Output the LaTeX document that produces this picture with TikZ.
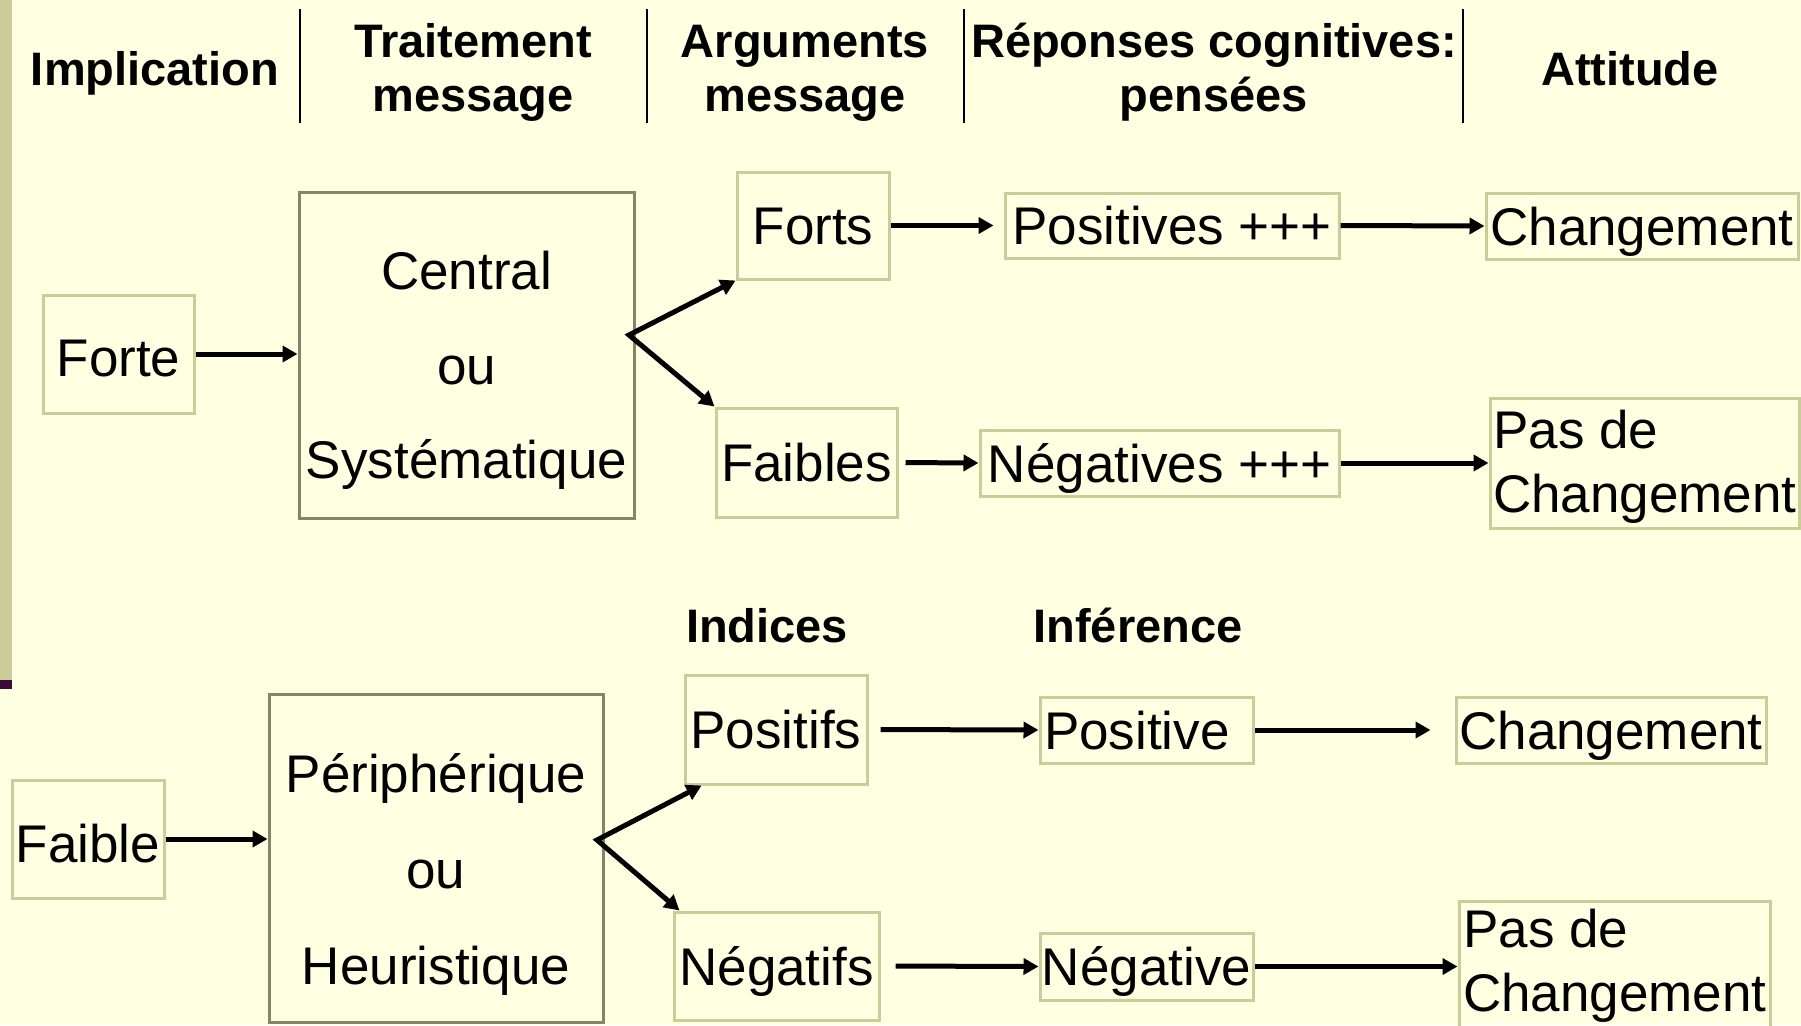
\documentclass[tikz,border=0pt]{standalone}
\usepackage{fontspec}
\setmainfont{Liberation Sans}
\usetikzlibrary{arrows.meta}
\definecolor{bgc}{HTML}{FFFFE1}
\definecolor{leftbar}{HTML}{CCCC99}
\definecolor{purp}{HTML}{3D0A3D}
\definecolor{sboxc}{HTML}{CCCC99}
\definecolor{bboxc}{HTML}{85856A}
\begin{document}
\begin{tikzpicture}[x=1pt,y=-1pt,
  bodyfont/.style={font=\fontsize{53}{63}\selectfont},
  sbox/.style={draw=sboxc, line width=3pt, inner sep=0pt, text height=38pt, text depth=0pt, bodyfont},
  bbox/.style={draw=bboxc, line width=3pt, inner sep=0pt},
  txt/.style={inner sep=0pt, anchor=base, bodyfont},
  txtl/.style={inner sep=0pt, anchor=base west, bodyfont},
  hdr/.style={inner sep=0pt, anchor=base, font=\bfseries\fontsize{47}{54}\selectfont},
  arr/.style={line width=5pt, -{Triangle[length=15pt,width=16pt]}},
  arrbi/.style={line width=5pt, line join=miter, {Triangle[length=15pt,width=16pt]}-{Triangle[length=15pt,width=16pt]}},
  sepline/.style={line width=2pt}]
\fill[bgc] (0,0) rectangle (1801,1025);
\useasboundingbox (0,0) rectangle (1801,1025);
\fill[leftbar] (0,0) rectangle (12,680);
\fill[purp] (0,680) rectangle (12,689);

% header separators
\draw[sepline] (300,9) -- (300,123);
\draw[sepline] (647,9) -- (647,123);
\draw[sepline] (964,9) -- (964,123);
\draw[sepline] (1463,9) -- (1463,123);

% headers
\node[hdr] (h1) at (155,85.5) {Implication};
\node[hdr] (h2a) at (473,58) {Traitement};
\node[hdr] (h2b) at (473,111) {message};
\node[hdr] (h3a) at (805,58) {Arguments};
\node[hdr] (h3b) at (805,111) {message};
\node[hdr] (h4a) at (1214,58) {Réponses cognitives:};
\node[hdr] (h4b) at (1214,111) {pensées};
\node[hdr] (h5) at (1630,85.5) {Attitude};
\node[hdr] (h6) at (767,642) {Indices};
\node[hdr] (h7) at (1138,642) {Inférence};

% top section boxes
\node[sbox, text height=44pt, minimum width=151pt, minimum height=118pt] (forte) at (118.5,354) {Forte};
\node[bbox, minimum width=335pt, minimum height=326pt] (central) at (466.5,355) {};
\node[txt] (c1) at (466.5,289) {Central};
\node[txt] (c2) at (466.5,384) {ou};
\node[txt] (c3) at (466.5,478) {Systématique};
\node[sbox, minimum width=152pt, minimum height=107pt] (forts) at (813,225.5) {Forts};
\node[sbox, minimum width=181pt, minimum height=109pt] (faibles) at (806.5,462.5) {Faibles};
\node[sbox, minimum width=334pt, minimum height=65pt] (positives) at (1172,225.5) {Positives +++};
\node[sbox, minimum width=359pt, minimum height=66pt] (negatives) at (1159.5,463) {Négatives +++};
\node[sbox, minimum width=312pt, minimum height=66pt] (chg1) at (1642,226) {Changement};
\node[sbox, minimum width=309pt, minimum height=130pt] (pasde1) at (1644.5,463) {};
\node[txtl] (p1a) at (1493,448) {Pas de};
\node[txtl] (p1b) at (1493,512) {Changement};

% bottom section boxes
\node[sbox, text height=46pt, minimum width=152pt, minimum height=118pt] (faible) at (88,839) {Faible};
\node[bbox, minimum width=334pt, minimum height=328pt] (periph) at (436,858) {};
\node[txt] (d1) at (436,792) {Périphérique};
\node[txt] (d2) at (436,888) {ou};
\node[txt] (d3) at (436,984) {Heuristique};
\node[sbox, minimum width=182pt, minimum height=109pt] (positifs) at (776,729.5) {Positifs};
\node[sbox, minimum width=205pt, minimum height=108pt] (negatifs) at (776.5,966) {Négatifs};
\node[sbox, minimum width=213pt, minimum height=66pt, text width=205pt, align=left] (positive) at (1146.5,730) {Positive};
\node[sbox, minimum width=310pt, minimum height=66pt] (chg2) at (1611,730) {Changement};
\node[sbox, minimum width=213pt, minimum height=67pt] (negative) at (1146.5,966.5) {Négative};
\node[sbox, minimum width=311pt, minimum height=144pt] (pasde2) at (1614.5,973) {};
\node[txtl] (p2a) at (1463,947) {Pas de};
\node[txtl] (p2b) at (1463,1011) {Changement};

% top connectors
\draw[arr] (forte.east) -- (forte.east -| central.west);
\coordinate (f1) at (629,335);
\draw[arrbi] (forts.south west) -- (f1) -- (faibles.north west);
\draw[arr, shorten >=10pt] (forts.east) -- (positives.west);
\draw[arr] (positives.east) -- (chg1.west);
\draw[arr, shorten <=7pt] (faibles.east) -- (negatives.west);
\draw[arr] (negatives.east) -- (pasde1.west);

% bottom connectors
\draw[arr] (faible.east) -- (faible.east -| periph.west);
\coordinate (f2) at (597,840);
\draw[arrbi] ([xshift=18pt]positifs.south west) -- (f2) -- ([xshift=7pt]negatifs.north west);
\draw[arr, shorten <=12pt] (positifs.east) -- (positive.west);
\draw[arr, shorten >=24pt] (positive.east) -- (chg2.west);
\draw[arr, shorten <=15pt] (negatifs.east) -- (negative.west);
\draw[arr] (negative.east) -- (negative.east -| pasde2.west);
\end{tikzpicture}
\end{document}
